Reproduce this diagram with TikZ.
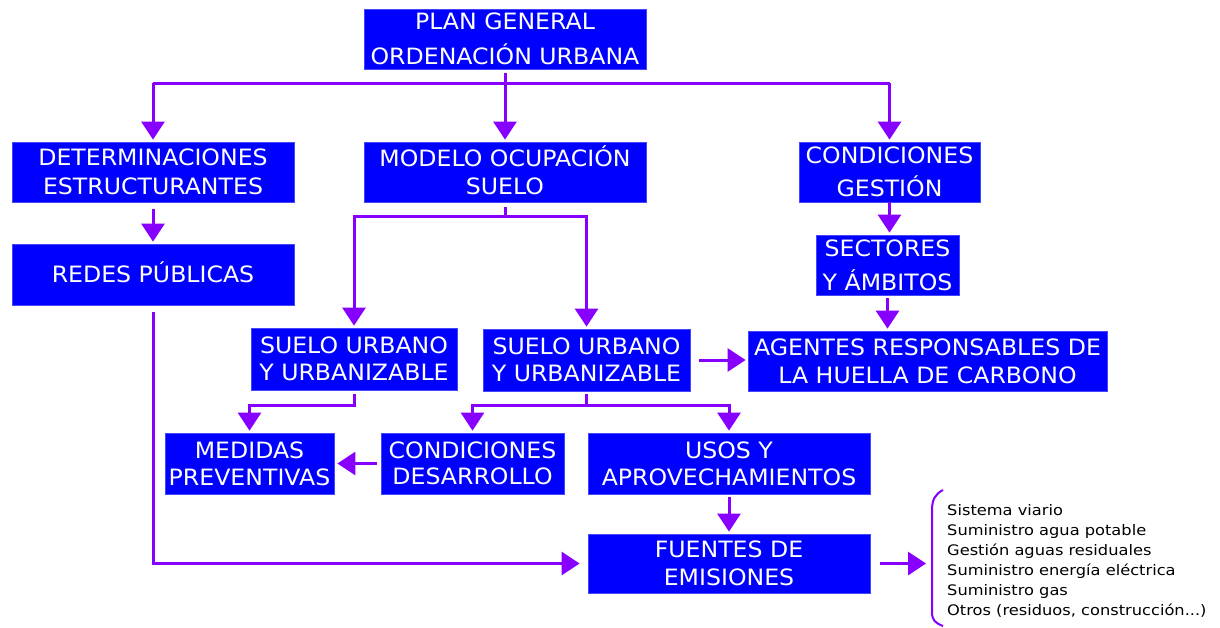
\documentclass[tikz,border=0pt]{standalone}
\usepackage{fontspec}
\setmainfont{DejaVu Sans}[FakeStretch=1.05]
\newfontfamily\listfont{DejaVu Sans}[FakeStretch=1.12]
\usetikzlibrary{arrows.meta}
\definecolor{boxblue}{RGB}{0,0,255}
\definecolor{boxedge}{RGB}{70,70,255}
\definecolor{vio}{RGB}{135,0,255}
\newcommand\capl[1]{\rule{0pt}{16.4pt}\smash{#1}}
\newcommand\capsm[1]{\rule{0pt}{10.5pt}\smash{#1}}
\begin{document}
\begin{tikzpicture}[x=1pt,y=-1pt,
  box/.style={fill=boxblue, draw=boxedge, line width=0.8pt, text=white, inner sep=0pt, align=center},
  sk/.style={font=\fontsize{22.5}{#1}\selectfont},
  line/.style={draw=vio, line width=3pt},
  arr/.style={line, -{Triangle[length=18pt,width=23pt]}, shorten >=2pt},
]
\useasboundingbox (0,0) rectangle (1220,627);
\fill[white] (0,0) rectangle (1220,627);

\node[box, sk=35, minimum width=282pt, minimum height=60pt] (plan) at (505,39) {\capl{PLAN GENERAL}\\\capl{ORDENACIÓN URBANA}};
\node[box, sk=29, minimum width=282pt, minimum height=60pt] (det) at (153,172) {\capl{DETERMINACIONES}\\\capl{ESTRUCTURANTES}};
\node[box, sk=28, minimum width=282pt, minimum height=60pt] (modelo) at (505,172) {\capl{MODELO OCUPACIÓN}\\\capl{SUELO}};
\node[box, sk=33, minimum width=181pt, minimum height=60pt] (cg) at (889.5,172) {\capl{CONDICIONES}\\\capl{GESTIÓN}};
\node[box, sk=28, minimum width=282pt, minimum height=61pt] (redes) at (153,274.5) {\capl{REDES PÚBLICAS}};
\node[box, sk=34, minimum width=143pt, minimum height=60pt] (sect) at (887.5,265) {\capl{SECTORES}\\\capl{Y ÁMBITOS}};
\node[box, sk=27, minimum width=206pt, minimum height=62pt] (su1) at (354,359) {\capl{SUELO URBANO}\\\capl{Y URBANIZABLE}};
\node[box, sk=27, minimum width=207pt, minimum height=62pt] (su2) at (586.5,360) {\capl{SUELO URBANO}\\\capl{Y URBANIZABLE}};
\node[box, sk=28, minimum width=359pt, minimum height=60pt] (agentes) at (927.5,361) {\capl{AGENTES RESPONSABLES DE}\\\capl{LA HUELLA DE CARBONO}};
\node[box, sk=27, minimum width=169pt, minimum height=61pt] (medidas) at (249.5,463.5) {\capl{MEDIDAS}\\\capl{PREVENTIVAS}};
\node[box, sk=26, minimum width=183pt, minimum height=61pt] (conddes) at (472.5,463.5) {\capl{CONDICIONES}\\\capl{DESARROLLO}};
\node[box, sk=27, minimum width=282pt, minimum height=61pt] (usos) at (729,463.5) {\capl{USOS Y}\\\capl{APROVECHAMIENTOS}};
\node[box, sk=28, minimum width=282pt, minimum height=59pt] (fuentes) at (729,563.5) {\capl{FUENTES DE}\\\capl{EMISIONES}};

\node[anchor=north west, align=left, inner sep=0pt, font=\listfont\fontsize{14.5}{20}\selectfont] (list) at (947,505)
  {\capsm{Sistema viario}\\Suministro agua potable\\Gestión aguas residuales\\Suministro energía eléctrica\\Suministro gas\\Otros (residuos, construcción...)};

% top bus
\coordinate (bus) at (505,83);
\draw[line, shorten <=4pt] (plan.south) -- (plan.south |- bus);
\draw[line] (det.north |- bus) -- (cg.north |- bus);
\draw[arr] (det.north |- bus) -- (det.north);
\draw[arr] (modelo.north |- bus) -- (modelo.north);
\draw[arr] (cg.north |- bus) -- (cg.north);

\draw[arr, shorten <=7pt] (det.south) -- (redes.north);

% modelo bus
\coordinate (mbus) at (505,216);
\draw[line, shorten <=5pt] (modelo.south) -- (modelo.south |- mbus);
\draw[arr] (modelo.south |- mbus) -| (su1.north);
\draw[arr] (modelo.south |- mbus) -| (su2.north);

\draw[arr] (cg.south) -- (cg.south |- sect.north);
\draw[arr, shorten <=3pt] (sect.south) -- (sect.south |- agentes.north);
\draw[arr, shorten <=9pt] (su2.east) -- (su2.east -| agentes.west);

% suelo 1 -> medidas
\coordinate (s1bus) at (354,405);
\draw[arr, shorten <=4pt] (su1.south) -- (su1.south |- s1bus) -| (medidas.north);

% suelo 2 -> condiciones, usos
\coordinate (s2bus) at (586.5,405);
\draw[line, shorten <=3pt] (su2.south) -- (su2.south |- s2bus);
\draw[arr] (su2.south |- s2bus) -| (conddes.north);
\draw[arr] (su2.south |- s2bus) -| (usos.north);

\draw[arr, shorten <=4pt, shorten >=3pt] (conddes.west) -- (conddes.west -| medidas.east);
\draw[arr, shorten <=3pt] (usos.south) -- (fuentes.north);
\draw[arr, shorten <=7pt, shorten >=8pt] (redes.south) |- (fuentes.west);

% brace and list
\coordinate (brace) at (926,563.5);
\draw[arr, shorten <=10pt, shorten >=0pt] (fuentes.east) -- (brace);
\draw[vio, line width=2pt] (943,490) .. controls (935,494) and (932,500) .. (932,510) -- (932,612) .. controls (932,620) and (935,623) .. (943,626);
\end{tikzpicture}
\end{document}
